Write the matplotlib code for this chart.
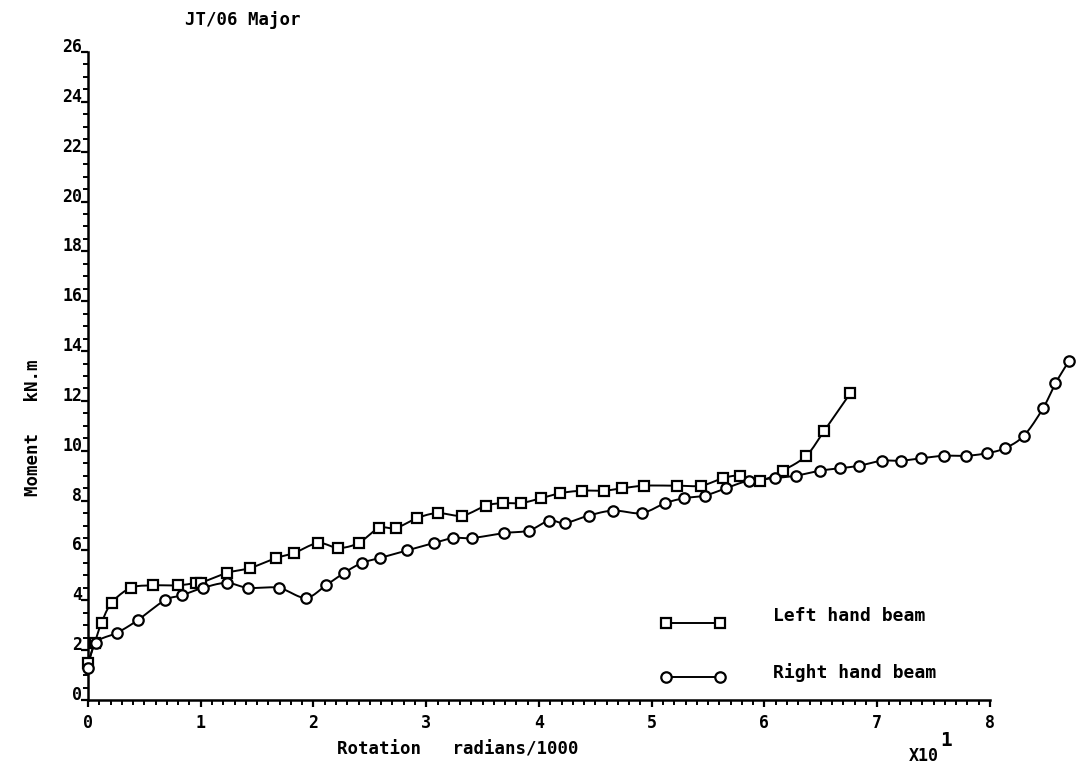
import numpy as np
import matplotlib
matplotlib.use("Agg")
import matplotlib.pyplot as plt
from matplotlib.ticker import MultipleLocator

# ---- data (rotation in radians/1000 x10^1, moment in kN.m) ----
left_x = [0.00, 0.06, 0.12, 0.21, 0.38, 0.58, 0.80, 0.96, 1.00, 1.23, 1.44, 1.67,
          1.83, 2.04, 2.22, 2.40, 2.58, 2.73, 2.92, 3.10, 3.32, 3.53, 3.68, 3.84,
          4.02, 4.19, 4.38, 4.58, 4.74, 4.93, 5.22, 5.44, 5.63, 5.78, 5.96, 6.16,
          6.37, 6.53, 6.76]
left_y = [1.5, 2.3, 3.1, 3.9, 4.5, 4.6, 4.6, 4.7, 4.7, 5.1, 5.3, 5.7,
          5.9, 6.3, 6.1, 6.3, 6.9, 6.9, 7.3, 7.5, 7.4, 7.8, 7.9, 7.9,
          8.1, 8.3, 8.4, 8.4, 8.5, 8.6, 8.6, 8.6, 8.9, 9.0, 8.8, 9.2,
          9.8, 10.8, 12.3]

right_x = [0.00, 0.07, 0.26, 0.44, 0.68, 0.83, 1.02, 1.23, 1.42, 1.69, 1.93, 2.11,
           2.27, 2.43, 2.59, 2.83, 3.07, 3.24, 3.41, 3.69, 3.91, 4.09, 4.23, 4.44,
           4.66, 4.91, 5.12, 5.29, 5.47, 5.66, 5.86, 6.09, 6.28, 6.49, 6.67, 6.84,
           7.04, 7.21, 7.39, 7.59, 7.79, 7.97, 8.13, 8.30, 8.47, 8.58, 8.70]
right_y = [1.3, 2.3, 2.7, 3.2, 4.0, 4.2, 4.5, 4.7, 4.5, 4.5, 4.1, 4.6,
           5.1, 5.5, 5.7, 6.0, 6.3, 6.5, 6.5, 6.7, 6.8, 7.2, 7.1, 7.4,
           7.6, 7.5, 7.9, 8.1, 8.2, 8.5, 8.8, 8.9, 9.0, 9.2, 9.3, 9.4,
           9.6, 9.6, 9.7, 9.8, 9.8, 9.9, 10.1, 10.6, 11.7, 12.7, 13.6]

y_ticks = list(range(0, 27, 2))
x_ticks = list(range(0, 9))

FONT = "DejaVu Sans Mono"


def smooth(x, y, n=12):
    pts = np.column_stack([x, y]).astype(float)
    P = np.vstack([pts[0], pts, pts[-1]])
    out = []
    t = np.linspace(0, 1, n, endpoint=False)[:, None]
    for i in range(1, len(P) - 2):
        p0, p1, p2, p3 = P[i - 1], P[i], P[i + 1], P[i + 2]
        seg = 0.5 * (2 * p1 + (-p0 + p2) * t + (2 * p0 - 5 * p1 + 4 * p2 - p3) * t ** 2
                     + (-p0 + 3 * p1 - 3 * p2 + p3) * t ** 3)
        out.append(seg)
    out.append(pts[-1:])
    s = np.vstack(out)
    return s[:, 0], s[:, 1]


fig = plt.figure(figsize=(10.77, 7.69), dpi=100)
ax = fig.add_axes([0.0817, 0.0897, 0.8375, 0.8427])
ax.set_xlim(0, 8)
ax.set_ylim(0, 26)

for s in ("top", "right"):
    ax.spines[s].set_visible(False)
for s in ("left", "bottom"):
    ax.spines[s].set_linewidth(1.8)

ax.set_xticks(x_ticks)
ax.set_yticks(y_ticks)
ax.xaxis.set_minor_locator(MultipleLocator(0.1))
ax.yaxis.set_minor_locator(MultipleLocator(0.5))
ax.tick_params(axis="both", which="major", direction="out", length=5, width=1.6,
               labelsize=12)
ax.tick_params(axis="both", which="minor", direction="out", length=3.5, width=1.4)
ax.tick_params(axis="y", which="major", pad=-1)
ax.tick_params(axis="x", which="major", pad=5)
for lbl in ax.get_yticklabels():
    lbl.set_fontfamily(FONT)
    lbl.set_fontweight("bold")
    lbl.set_va("baseline")
for lbl in ax.get_xticklabels():
    lbl.set_fontfamily(FONT)
    lbl.set_fontweight("bold")

# curves
for xs, ys, mk in ((left_x, left_y, "s"), (right_x, right_y, "o")):
    sx, sy = smooth(xs, ys)
    ax.plot(sx, sy, color="black", lw=1.4, clip_on=False, zorder=2)
    ax.plot(xs, ys, ls="none", marker=mk, ms=7 if mk == "s" else 7.5, mfc="white",
            mec="black", mew=1.6, clip_on=False, zorder=3)

# legend drawn by hand
ax.plot([0.641, 0.701], [0.119, 0.119], transform=ax.transAxes, color="black", lw=1.4,
        marker="s", ms=7, mfc="white", mec="black", mew=1.6)
ax.plot([0.641, 0.701], [0.0355, 0.0355], transform=ax.transAxes, color="black", lw=1.4,
        marker="o", ms=7.5, mfc="white", mec="black", mew=1.6)
ax.text(0.7594, 0.130, "Left hand beam", transform=ax.transAxes, family=FONT,
        weight="bold", fontsize=13, va="center", ha="left")
ax.text(0.7594, 0.043, "Right hand beam", transform=ax.transAxes, family=FONT,
        weight="bold", fontsize=13, va="center", ha="left")

# titles / labels
fig.text(185 / 1077, 1 - 20 / 769, "JT/06 Major", family=FONT, weight="bold",
         fontsize=12.5, ha="left", va="center")
fig.text(458 / 1077, 1 - 749 / 769, "Rotation   radians/1000", family=FONT,
         weight="bold", fontsize=12.5, ha="center", va="center")
fig.text(33 / 1077, 1 - 428 / 769, "Moment   kN.m", family=FONT, weight="bold",
         fontsize=12.5, ha="center", va="center", rotation=90)
fig.text(909 / 1077, 1 - 761 / 769, "X10", family=FONT, weight="bold",
         fontsize=12, ha="left", va="baseline")
fig.text(940 / 1077, 1 - 746 / 769, "1", family=FONT, weight="bold",
         fontsize=14, ha="left", va="baseline")

fig.savefig("out.png", dpi=100)
